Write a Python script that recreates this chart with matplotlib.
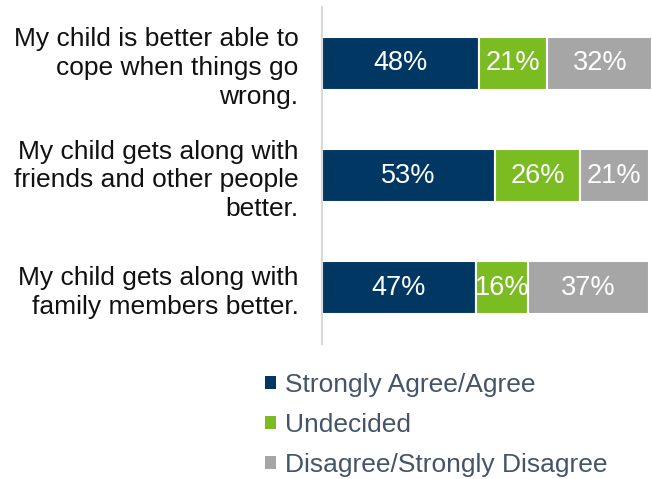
import matplotlib.pyplot as plt
from matplotlib.patches import Patch
import numpy as np

plt.rcParams['font.family'] = ['Liberation Sans', 'DejaVu Sans']

statements = [
    'My child is better able to\ncope when things go\nwrong.',
    'My child gets along with\nfriends and other people\nbetter.',
    'My child gets along with\nfamily members better.',
]
agree = [48, 53, 47]
undecided = [21, 26, 16]
disagree = [32, 21, 37]

series_names = ['Strongly Agree/Agree', 'Undecided', 'Disagree/Strongly Disagree']
colors = ['#003763', '#7BBC22', '#A6A6A6']

fig = plt.figure(figsize=(6.52, 4.79), dpi=100)
ax = fig.add_axes([322 / 652, 1 - 344 / 479, 330 / 652, 337 / 479])

y = np.arange(len(statements))
left = np.zeros(len(statements))
for vals, color in zip([agree, undecided, disagree], colors):
    bars = ax.barh(y, vals, left=left, height=0.47, color=color,
                   edgecolor='white', linewidth=1.5)
    for b, v in zip(bars, vals):
        ax.text(b.get_x() + b.get_width() / 2, b.get_y() + b.get_height() / 2,
                f'{v}%', ha='center', va='center', color='white', fontsize=19.5)
    left += np.array(vals)

ax.set_ylim(len(statements) - 0.5, -0.5)
ax.set_xlim(0, 101)
ax.set_yticks(y)
ax.set_yticklabels(statements, fontsize=19, color='#111111', linespacing=1.25)
for lbl in ax.get_yticklabels():
    lbl.set_multialignment('right')
ax.tick_params(axis='y', length=0, pad=17)
ax.set_xticks([])
for side in ['top', 'right', 'bottom']:
    ax.spines[side].set_visible(False)
ax.spines['left'].set_color('#D9D9D9')
ax.spines['left'].set_linewidth(1.5)

handles = [Patch(facecolor=c, edgecolor='none') for c in colors]
fig.legend(handles, series_names, loc='upper left', bbox_to_anchor=(265 / 652, 1 - 373 / 479),
           frameon=False, fontsize=19, labelcolor='#44546A', borderpad=0, borderaxespad=0,
           handlelength=0.4, handleheight=0.4, handletextpad=0.35, labelspacing=0.6)

fig.savefig('out.png', dpi=100)
